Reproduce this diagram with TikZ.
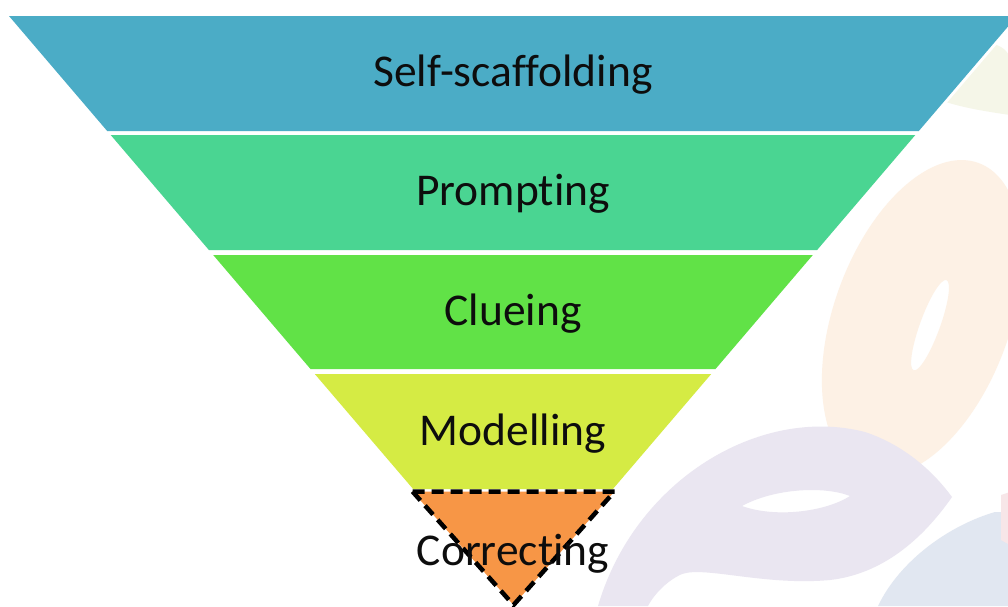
\documentclass[tikz,border=0pt]{standalone}
\usepackage{fontspec}
\setmainfont{Carlito}[Ligatures=NoCommon]
\begin{document}
\begin{tikzpicture}[x=1pt,y=-1pt,
  label/.style={anchor=base,font=\fontsize{45.5}{54}\selectfont,text=black!95,inner sep=0pt}]
\definecolor{cSelf}{HTML}{4BACC6}
\definecolor{cPrompt}{HTML}{4AD592}
\definecolor{cClue}{HTML}{61E247}
\definecolor{cModel}{HTML}{D5EB44}
\definecolor{cCorrect}{HTML}{F79646}
\definecolor{wOrange}{HTML}{FDF1E5}
\definecolor{wPurple}{HTML}{EAE6F1}
\definecolor{wBlue}{HTML}{E1E7F1}
\definecolor{wYellow}{HTML}{F5F6E8}
\definecolor{wRed}{HTML}{F7E6E8}

\useasboundingbox (0,0) rectangle (1008,606);
\fill[white] (0,0) rectangle (1008,606);

% faint logo in the background
\begin{scope}
\clip (0,0) rectangle (1008,606);
\fill[wYellow] (945,45) .. controls (980,38) and (1008,42) .. (1010,60) -- (1010,115) .. controls (990,112) and (962,108) .. (940,100) -- cycle;
% orange leaf
\fill[wOrange, even odd rule, rotate around={70:(922,318)}]
  (922,318) ellipse [x radius=165, y radius=88]
  (918,328) ellipse [x radius=48, y radius=10];
% purple leaf with its sweeping tail
\fill[wPurple, even odd rule]
  (598,606) .. controls (635,480) and (760,405) .. (865,432)
  .. controls (910,447) and (938,478) .. (952,497)
  .. controls (922,540) and (882,574) .. (830,580)
  .. controls (765,586) and (705,566) .. (682,574)
  .. controls (664,582) and (652,598) .. (648,606) -- cycle
  (742,506) .. controls (775,488) and (825,486) .. (850,496)
  .. controls (825,512) and (775,518) .. (742,506) -- cycle;
% blue leaf
\fill[wBlue] (878,606) .. controls (900,560) and (950,525) .. (995,512) -- (1010,512) -- (1010,606) -- cycle;
% red sliver
\fill[wRed] (1001,495) -- (1010,492) -- (1010,545) -- (1001,540) -- cycle;
\end{scope}

% white rim round the pyramid
\draw[white, line width=6pt, line join=miter] (9,16) -- (1017,16) -- (513,606) -- cycle;
\fill[white] (9,16) -- (1017,16) -- (513,606) -- cycle;

% the bands
\fill[cSelf]   (9,16)      -- (1017,16)    -- (918.8,131) -- (107.2,131) -- cycle;
\fill[cPrompt] (110.7,135) -- (915.3,135)  -- (817.1,250) -- (208.9,250) -- cycle;
\fill[cClue]   (213.2,255) -- (812.8,255)  -- (715.5,369) -- (310.5,369) -- cycle;
\fill[cModel]  (314.8,374) -- (711.2,374)  -- (612.9,489) -- (413.1,489) -- cycle;

% the dashed tip
\coordinate (tl) at (412.5,491.5);
\coordinate (tr) at (614.5,491.5);
\coordinate (tb) at (513.5,605);
\filldraw[fill=cCorrect, draw=black, line width=4.5pt, dash pattern=on 12pt off 7pt, line join=miter]
  (tl) -- (tr) -- (tb) -- cycle;

\node[label] (self)    at (513,86)  {Self-scaffolding};
\node[label] (prompt)  at (513,205) {Prompting};
\node[label] (clue)    at (513,325) {Clueing};
\node[label] (model)   at (513,445) {Modelling};
\node[label] (correct) at (513,565) {Correcting};
\end{tikzpicture}
\end{document}
